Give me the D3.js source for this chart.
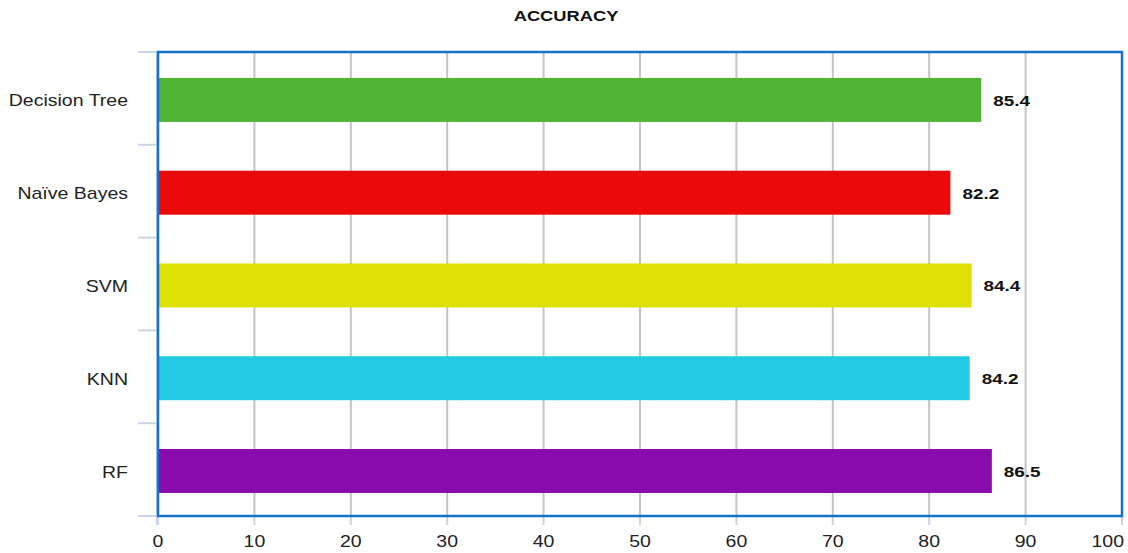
<!DOCTYPE html>
<html><head><meta charset="utf-8">
<script src="https://cdn.jsdelivr.net/npm/d3@7"></script>
<style>body{margin:0;background:#fff}svg{display:block;font-family:"Liberation Sans",Arial,sans-serif}</style>
</head><body>
<svg id="c" width="1128" height="553"></svg>
<script>
const categories = ["Decision Tree","Naïve Bayes","SVM","KNN","RF"];
const values = [85.4, 82.2, 84.4, 84.2, 86.5];
const colors = ["#52b435","#ea0a0a","#dde000","#22cbe3","#8a0bad"];
const xTicks = [0,10,20,30,40,50,60,70,80,90,100];
const title = "ACCURACY";

const SX = 1.22; // horizontal stretch of the reference's text
const svg = d3.select("#c");
const m = {l:158, r:1122, t:52, b:516};
const x = d3.scaleLinear().domain([0,100]).range([m.l, m.r]);
const y = d3.scaleBand().domain(categories).range([m.t, m.b]).paddingInner(0.526).paddingOuter(0.264).align(0.53);
const band = d3.scaleBand().domain(categories).range([m.t, m.b]);
const tr = (px,py) => `translate(${px},${py}) scale(${SX},1)`;

svg.append("text").attr("transform",tr(566,21)).attr("text-anchor","middle")
  .attr("font-weight","bold").attr("font-size",15).attr("fill","#111").text(title);

// grid
svg.append("g").selectAll("line").data(xTicks.slice(1,-1)).join("line")
  .attr("x1",d=>x(d)).attr("x2",d=>x(d)).attr("y1",m.t).attr("y2",m.b)
  .attr("stroke","#c4c4c4").attr("stroke-width",2);

// axis lines (light blue)
const ax = "#c8d6e6";
const bounds = categories.map(c=>band(c)).concat([m.b]);
svg.append("g").selectAll("line").data(bounds).join("line")
  .attr("x1",138).attr("x2",m.l).attr("y1",d=>d).attr("y2",d=>d)
  .attr("stroke",ax).attr("stroke-width",2);
svg.append("line").attr("x1",m.l-1).attr("x2",m.l-1).attr("y1",m.t).attr("y2",m.b+9).attr("stroke",ax).attr("stroke-width",2);
svg.append("g").selectAll("line").data(xTicks).join("line")
  .attr("x1",d=>x(d)).attr("x2",d=>x(d)).attr("y1",m.b).attr("y2",m.b+9)
  .attr("stroke",ax).attr("stroke-width",2);

// bars
svg.append("g").selectAll("rect").data(values).join("rect")
  .attr("x",x(0)+1).attr("y",(d,i)=>y(categories[i]))
  .attr("width",d=>x(d)-x(0)-1).attr("height",y.bandwidth())
  .attr("fill",(d,i)=>colors[i]);

// value labels
svg.append("g").selectAll("text").data(values).join("text")
  .attr("transform",(d,i)=>tr(x(d)+12, y(categories[i])+y.bandwidth()/2+6))
  .attr("font-weight","bold").attr("font-size",15.5).attr("fill","#111")
  .text(d=>d.toFixed(1));

// frame
svg.append("rect").attr("x",m.l).attr("y",m.t).attr("width",m.r-m.l).attr("height",m.b-m.t)
  .attr("fill","none").attr("stroke","#1473c9").attr("stroke-width",2.5);

// category labels
svg.append("g").selectAll("text").data(categories).join("text")
  .attr("transform",d=>tr(128, band(d)+band.bandwidth()/2+8)).attr("text-anchor","end")
  .attr("font-size",16).attr("fill","#222").text(d=>d);

// x tick labels
svg.append("g").selectAll("text").data(xTicks).join("text")
  .attr("transform",(d,i)=> i===xTicks.length-1 ? tr(x(d)+2,547) : tr(x(d),547))
  .attr("text-anchor",(d,i)=> i===xTicks.length-1 ? "end" : "middle")
  .attr("font-size",16).attr("fill","#222").text(d=>d);
</script>
</body></html>
